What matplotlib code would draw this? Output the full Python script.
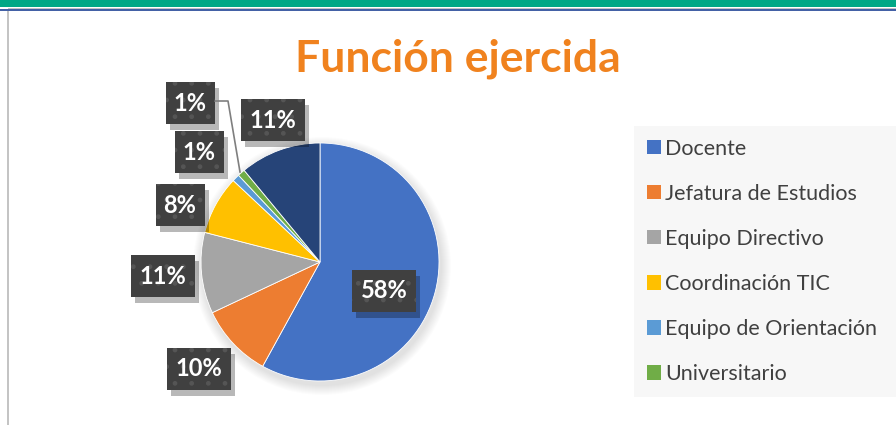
import numpy as np
import matplotlib; matplotlib.use("Agg")
import matplotlib.pyplot as plt
import matplotlib.patheffects as pe
from matplotlib.patches import Rectangle, Circle, Patch

plt.rcParams["font.family"] = ["Lato", "DejaVu Sans"]
plt.rcParams["hatch.color"] = "#555555"
plt.rcParams["hatch.linewidth"] = 1.0

# data
categories = ["Docente", "Jefatura de Estudios", "Equipo Directivo", "Coordinación TIC",
              "Equipo de Orientación", "Universitario", "Otros"]
values = [58, 10, 11, 8, 1, 1, 11]
colors = ["#4472C4", "#ED7D31", "#A5A5A5", "#FFC000", "#5B9BD5", "#70AD47", "#264478"]
legend_n = 6
title = "Función ejercida"

W, H = 896, 425
fig = plt.figure(figsize=(W / 100, H / 100), dpi=100)
ax = fig.add_axes([0, 0, 1, 1])

# frame decorations (pixel coords, y up)
ax.add_patch(Rectangle((0, H - 7), W, 7, color="#00A886", lw=0, zorder=1))
ax.add_patch(Rectangle((8, H - 9), W, 1.5, color="#c4c4c4", lw=0, zorder=1))
ax.add_patch(Rectangle((0, H - 11), W, 2, color="#4361a6", lw=0, zorder=1))
ax.add_patch(Rectangle((7, 0), 1.6, H - 11, color="#c4c4c4", lw=0, zorder=1))

cx, cy, r = 320, H - 262, 119

# soft shadow under the pie
for k in range(10):
    ax.add_patch(Circle((cx + 2, cy - 4), r + 10 - k, color="#000000", alpha=0.012, lw=0, zorder=2))

wedges, _ = ax.pie(values, colors=colors, startangle=90, counterclock=False,
                   center=(cx, cy), radius=r, wedgeprops=dict(lw=0.6, edgecolor="white"))
for w in wedges:
    w.set_zorder(3)

# data labels (box centres in image px)
label_pos = [(384, 291), (199, 369), (163, 276), (180, 205), (199, 152), (190, 103), (273, 120)]
shadow = [pe.SimplePatchShadow(offset=(3, -4), shadow_rgbFace="black", alpha=0.28), pe.Normal()]
for v, (lx, ly) in zip(values, label_pos):
    txt = f"{v}%"
    bw, bh = 34 + 15 * len(str(v)), 42
    x0, y0 = lx - bw / 2, H - ly - bh / 2
    box = Rectangle((x0, y0), bw, bh, fc="#404040", ec="none", lw=0, zorder=4)
    box.set_path_effects(shadow)
    ax.add_patch(box)
    ax.add_patch(Rectangle((x0, y0), bw, bh, fc="none", ec="#555555", lw=0, hatch=".", zorder=4.5))
    ax.text(lx, H - ly, txt, ha="center", va="center", fontsize=17, fontweight="bold",
            color="white", zorder=5)

# leader line for the small Universitario slice
ax.plot([215, 228, 240], [H - 101, H - 101, H - 172], color="#7f7f7f", lw=1.2, zorder=4)

ax.text(458, H - 59, title, ha="center", va="center", fontsize=32, fontweight="bold",
        color="#F0821E", zorder=5)

handles = [Patch(facecolor=c, edgecolor="none") for c in colors[:legend_n]]
leg = ax.legend(handles, categories[:legend_n], loc="upper left",
                bbox_to_anchor=(634, H - 397, W - 634, 271), bbox_transform=ax.transData,
                mode="expand", frameon=True, fancybox=False, facecolor="#F7F7F7", edgecolor="none",
                framealpha=1, fontsize=15.5, labelspacing=1.165, handlelength=0.65, handleheight=0.65,
                handletextpad=0.2, borderpad=0.59, borderaxespad=0)
for t in leg.get_texts():
    t.set_color("#404040")

ax.set_xlim(0, W)
ax.set_ylim(0, H)
ax.set_aspect("auto")
ax.axis("off")
fig.savefig("out.png", dpi=100, facecolor="white")
